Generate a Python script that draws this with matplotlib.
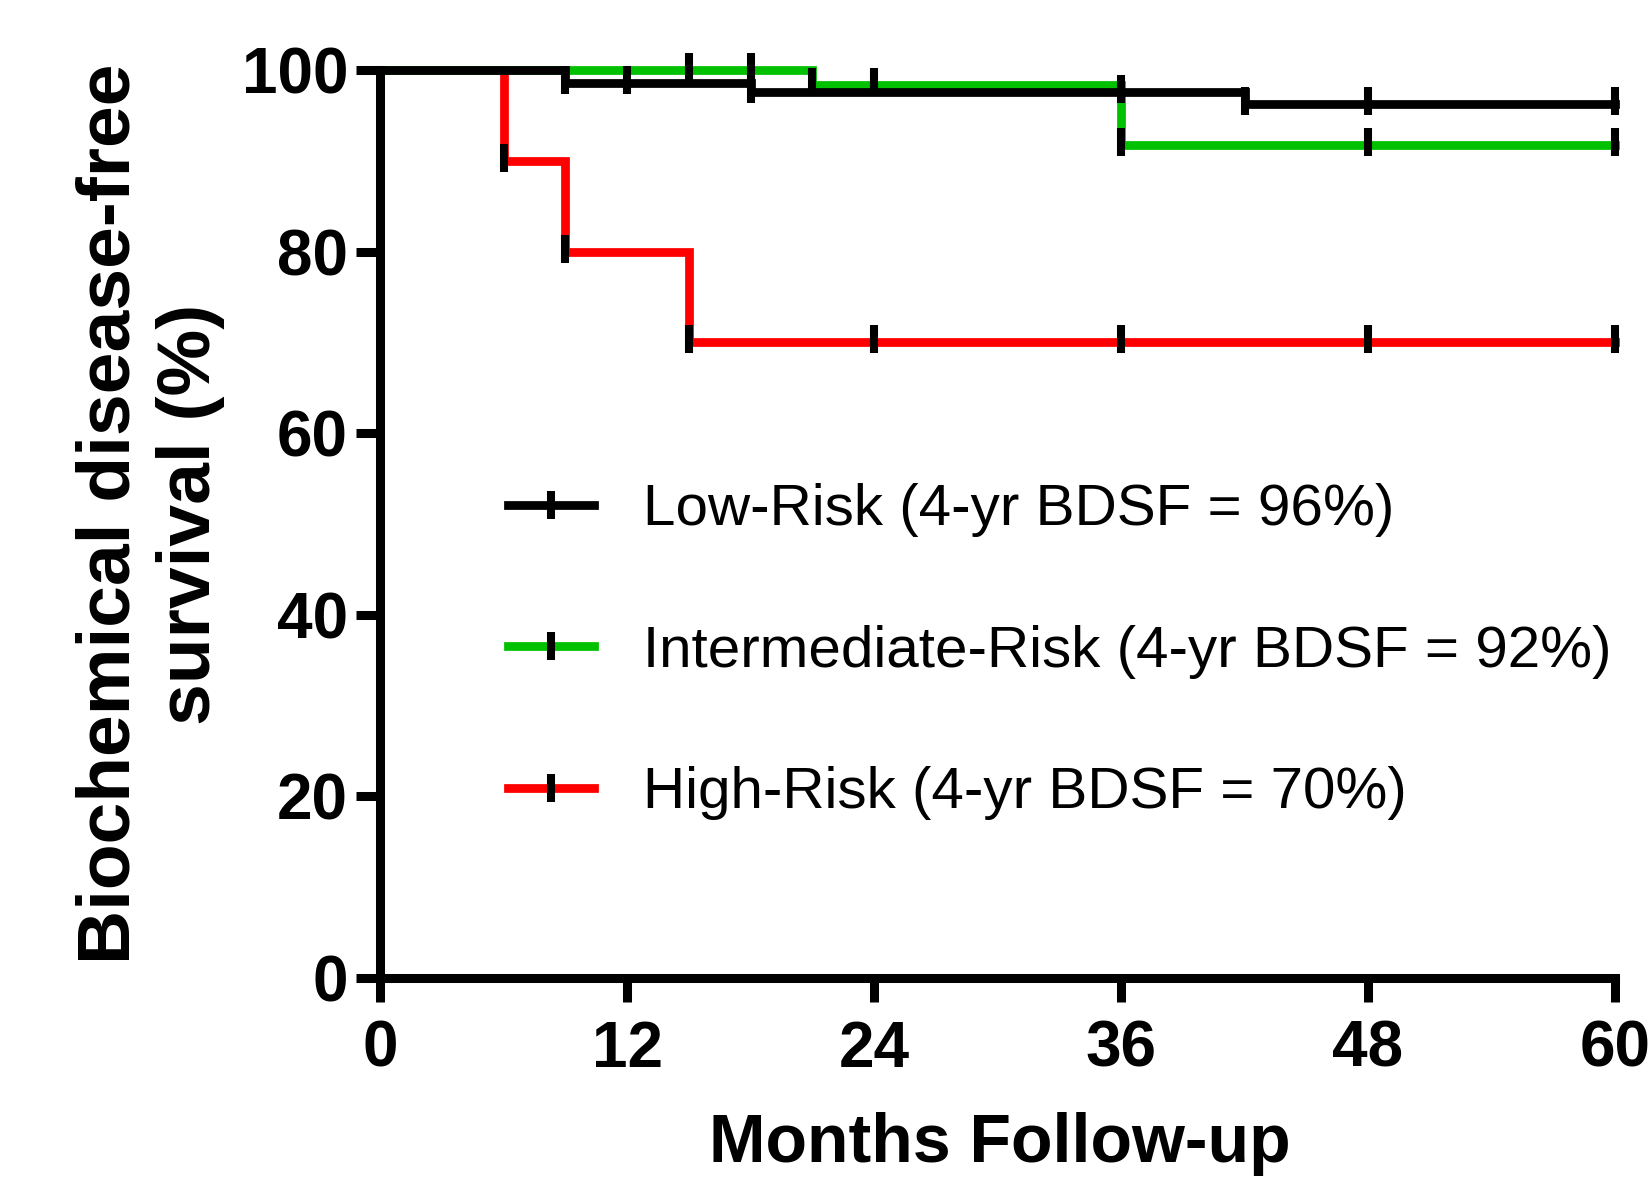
import matplotlib
matplotlib.use("Agg")
import matplotlib.pyplot as plt
from matplotlib.lines import Line2D
from matplotlib.transforms import ScaledTranslation

plt.rcParams['font.family'] = ['Liberation Sans', 'DejaVu Sans']

# ---- data ----
low_t = [0, 9, 18, 42, 60]
low_s = [100, 98.6, 97.6, 96.2, 96.2]
low_cens_t = [9, 12, 18, 36, 42, 48, 60]
low_cens_s = [98.6, 98.6, 97.6, 97.6, 96.2, 96.2, 96.2]

int_t = [0, 21, 36, 60]
int_s = [100, 98.4, 91.7, 91.7]
int_cens_t = [15, 18, 21, 24, 36, 48, 60]
int_cens_s = [100, 100, 98.4, 98.4, 91.7, 91.7, 91.7]

high_t = [0, 6, 9, 15, 60]
high_s = [100, 90, 80, 70, 70]
high_cens_t = [6, 9, 15, 24, 36, 48, 60]
high_cens_s = [90, 80, 70, 70, 70, 70, 70]

labels = ["Low-Risk (4-yr BDSF = 96%)",
          "Intermediate-Risk (4-yr BDSF = 92%)",
          "High-Risk (4-yr BDSF = 70%)"]
colors = ["#000000", "#00C000", "#FF0000"]
xticks = [0, 12, 24, 36, 48, 60]
yticks = [0, 20, 40, 60, 80, 100]
xlabel = "Months Follow-up"
ylabel = "Biochemical disease-free\nsurvival (%)"

# ---- figure ----
fig = plt.figure(figsize=(16.51, 11.82), dpi=100)
ax = fig.add_axes([0.2302, 0.1726, 0.7480, 0.7682])

LW = 6.3
MS = 19.5
MEW = 5.8
off = ax.transData + ScaledTranslation(0, 3 / 100, fig.dpi_scale_trans)

series = [(high_t, high_s, high_cens_t, high_cens_s, colors[2], 2),
          (int_t, int_s, int_cens_t, int_cens_s, colors[1], 3),
          (low_t, low_s, low_cens_t, low_cens_s, colors[0], 4)]
for t, s, ct, cs, c, z in series:
    ax.step(t, s, where='post', color=c, lw=LW, zorder=z, clip_on=False,
            solid_joinstyle='miter')
for t, s, ct, cs, c, z in series:
    ax.plot(ct, cs, linestyle='none', marker='|', markersize=MS,
            markeredgewidth=MEW, color='black', zorder=6, clip_on=False,
            transform=off)

ax.set_xlim(0, 60)
ax.set_ylim(0, 100)
ax.set_xticks(xticks)
ax.set_yticks(yticks)
ax.spines['top'].set_visible(False)
ax.spines['right'].set_visible(False)
for sp in ('left', 'bottom'):
    ax.spines[sp].set_linewidth(6.5)
    ax.spines[sp].set_zorder(7)
ax.tick_params(axis='both', direction='out', length=17, width=6.5,
               labelsize=46)
ax.tick_params(axis='x', pad=13)
ax.tick_params(axis='y', pad=6)
for lab in ax.get_xticklabels() + ax.get_yticklabels():
    lab.set_fontweight('bold')

ax.set_xlabel(xlabel, fontsize=49, fontweight='bold')
ax.xaxis.label.set_va('baseline')
ax.xaxis.set_label_coords(0.502, -0.203)
ax.set_ylabel(ylabel, fontsize=54, fontweight='bold', va='center',
              multialignment='center')
ax.yaxis.set_label_coords(-0.186, 0.511)

handles = [Line2D([0], [0], color=c, lw=LW, marker='|', markersize=MS,
                  markeredgewidth=MEW, markeredgecolor='black',
                  markerfacecolor='black') for c in colors]
leg = ax.legend(handles, labels, loc='upper left',
                bbox_to_anchor=(0.1036, 0.545), frameon=False,
                fontsize=42, handlelength=1.48, handletextpad=0.84,
                labelspacing=1.5, borderpad=0, borderaxespad=0,
                numpoints=1)

fig.savefig("out.png", dpi=100)
